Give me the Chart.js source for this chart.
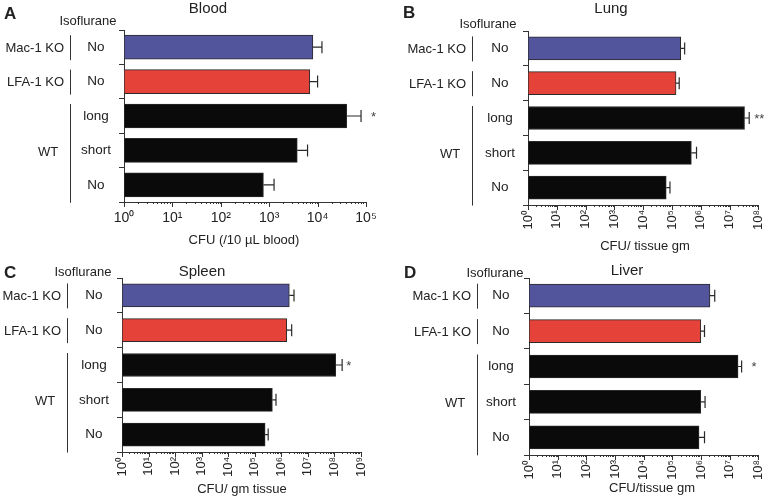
<!DOCTYPE html>
<html>
<head>
<meta charset="utf-8">
<script src="https://cdn.jsdelivr.net/npm/chart.js@4.4.0/dist/chart.umd.min.js"></script>
<style>
  body { margin: 0; background: #fff; }
  #wrap { position: relative; width: 777px; height: 501px; }
  canvas { position: absolute; }
</style>
</head>
<body>
<div id="wrap">
  <canvas id="blood" width="388" height="250" style="left:0;top:0"></canvas>
  <canvas id="lung" width="387" height="256" style="left:390px;top:0"></canvas>
  <canvas id="spleen" width="388" height="251" style="left:0;top:250px"></canvas>
  <canvas id="liver" width="387" height="251" style="left:390px;top:250px"></canvas>
</div>
<script>
const FONT = "'Liberation Sans', Arial, sans-serif";

// rows, top to bottom
const categories = ['No', 'No', 'long', 'short', 'No'];
const groupNames = ['Mac-1 KO', 'LFA-1 KO', 'WT'];
const groupRows = [[0, 0], [1, 1], [2, 4]];
const barColors = ['#52559b', '#e5433a', '#0a0a0a', '#0a0a0a', '#0a0a0a'];

const bloodValues = [8000, 6900, 40000, 3800, 760];
const bloodErrors = [12300, 10000, 79000, 6200, 1260];
const bloodStars = ['', '', '*', '', ''];

const lungValues = [200000, 138000, 33000000, 470000, 63000];
const lungErrors = [275000, 178000, 48000000, 710000, 85000];
const lungStars = ['', '', '**', '', ''];

const spleenValues = [2000000, 1600000, 112000000, 460000, 245000];
const spleenErrors = [3000000, 2450000, 195000000, 630000, 320000];
const spleenStars = ['', '', '*', '', ''];

const liverValues = [2050000, 980000, 19500000, 980000, 850000];
const liverErrors = [3000000, 1320000, 26000000, 1380000, 1320000];
const liverStars = ['', '', '*', '', ''];

const decades5 = ['10⁰', '10¹', '10²', '10³', '10⁴', '10⁵'];
const decades8 = ['10⁰', '10¹', '10²', '10³', '10⁴', '10⁵', '10⁶', '10⁷', '10⁸'];
const decades9 = ['10⁰', '10¹', '10²', '10³', '10⁴', '10⁵', '10⁶', '10⁷', '10⁸', '10⁹'];

const panels = [
  {id: 'blood', letter: 'A', title: 'Blood', axisTitle: 'CFU (/10 µL blood)',
   values: bloodValues, errors: bloodErrors, stars: bloodStars, decades: decades5,
   area: {left: 124, right: 366, top: 30, bottom: 202}, bar: 24, rotate: 0, tickFont: 14, tickPad: 6,
   letterPos: [4, 14], titlePos: [208, 9], isoPos: [88, 21], axisTitlePos: [244, 240], groupX: 70, starGap: 10},
  {id: 'lung', letter: 'B', title: 'Lung', axisTitle: 'CFU/ tissue gm',
   values: lungValues, errors: lungErrors, stars: lungStars, decades: decades8,
   area: {left: 138, right: 378, top: 31, bottom: 205}, bar: 23, rotate: 90, tickFont: 13, tickPad: 3,
   letterPos: [13, 13], titlePos: [221, 9], isoPos: [98, 24], axisTitlePos: [255, 246], groupX: 82, starGap: 5},
  {id: 'spleen', letter: 'C', title: 'Spleen', axisTitle: 'CFU/ gm tissue',
   values: spleenValues, errors: spleenErrors, stars: spleenStars, decades: decades9,
   area: {left: 122, right: 361, top: 28, bottom: 202}, bar: 23, rotate: 90, tickFont: 13, tickPad: 3,
   letterPos: [4, 23], titlePos: [202, 22], isoPos: [83, 22], axisTitlePos: [242, 239], groupX: 67, starGap: 4},
  {id: 'liver', letter: 'D', title: 'Liver', axisTitle: 'CFU/tissue gm',
   values: liverValues, errors: liverErrors, stars: liverStars, decades: decades8,
   area: {left: 139, right: 379, top: 28, bottom: 205}, bar: 23, rotate: 90, tickFont: 13, tickPad: 3,
   letterPos: [14, 23], titlePos: [237, 21], isoPos: [105, 23], axisTitlePos: [262, 238], groupX: 87, starGap: 10}
];

function annotate(p) {
  return {
    id: 'annotate',
    afterDatasetsDraw(chart) {
      const ctx = chart.ctx, x = chart.scales.x, y = chart.scales.y;
      ctx.save();
      // error bars + stars
      ctx.strokeStyle = '#2a2a2a';
      ctx.lineWidth = 1.2;
      p.values.forEach((v, i) => {
        const x0 = x.getPixelForValue(v), x1 = x.getPixelForValue(p.errors[i]);
        const yc = y.getPixelForValue(i);
        ctx.beginPath();
        ctx.moveTo(x0, yc); ctx.lineTo(x1, yc);
        ctx.moveTo(x1, yc - 6); ctx.lineTo(x1, yc + 6);
        ctx.stroke();
        if (p.stars[i]) {
          ctx.fillStyle = '#444';
          ctx.font = '13px ' + FONT;
          ctx.textAlign = 'left';
          ctx.textBaseline = 'middle';
          ctx.fillText(p.stars[i], x1 + p.starGap, yc + 1);
        }
      });
      // longer marks at the decades
      const yb = chart.chartArea.bottom;
      ctx.strokeStyle = '#333';
      ctx.lineWidth = 1;
      p.decades.forEach((_, d) => {
        const xx = Math.round(x.getPixelForValue(Math.pow(10, d))) + 0.5;
        ctx.beginPath(); ctx.moveTo(xx, yb); ctx.lineTo(xx, yb + 5); ctx.stroke();
      });
      ctx.restore();
    },
    afterDraw(chart) {
      const ctx = chart.ctx, y = chart.scales.y;
      ctx.save();
      ctx.fillStyle = '#222';
      ctx.textBaseline = 'middle';

      ctx.font = 'bold 17px ' + FONT;
      ctx.textAlign = 'left';
      ctx.fillText(p.letter, p.letterPos[0], p.letterPos[1]);

      ctx.textAlign = 'center';
      ctx.font = '15px ' + FONT;
      ctx.fillText(p.title, p.titlePos[0], p.titlePos[1]);

      ctx.font = '13px ' + FONT;
      ctx.fillText('Isoflurane', p.isoPos[0], p.isoPos[1]);
      ctx.fillText(p.axisTitle, p.axisTitlePos[0], p.axisTitlePos[1]);

      // genotype groups with their bracket lines
      ctx.strokeStyle = '#333';
      ctx.lineWidth = 1;
      groupRows.forEach(([a, b], g) => {
        const top = y.getPixelForValue(a) - 12;
        const bot = y.getPixelForValue(b) + (a === b ? 13 : 18);
        const lx = Math.round(p.groupX) + 0.5;
        ctx.beginPath(); ctx.moveTo(lx, top); ctx.lineTo(lx, bot); ctx.stroke();
        if (a === b) {
          ctx.textAlign = 'right';
          ctx.fillText(groupNames[g], p.groupX - 6, y.getPixelForValue(a) + 1);
        } else {
          ctx.textAlign = 'center';
          ctx.fillText(groupNames[g], p.groupX - 22, y.getPixelForValue((a + b) / 2) + 2);
        }
      });
      ctx.restore();
    }
  };
}

function makeChart(p) {
  const canvas = document.getElementById(p.id);
  const W = canvas.width, H = canvas.height;
  return new Chart(canvas, {
    type: 'bar',
    data: {
      labels: categories,
      datasets: [{
        data: p.values,
        backgroundColor: barColors,
        borderColor: '#2a2a2a',
        borderWidth: 1,
        borderSkipped: false,
        barThickness: p.bar
      }]
    },
    options: {
      indexAxis: 'y',
      responsive: false,
      animation: false,
      events: [],
      layout: {padding: {left: 0, top: p.area.top, right: W - p.area.right, bottom: 0}},
      plugins: {legend: {display: false}, tooltip: {enabled: false}},
      scales: {
        x: {
          type: 'logarithmic',
          min: 1,
          max: Math.pow(10, p.decades.length - 1),
          afterFit: s => { s.height = H - p.area.bottom; },
          afterBuildTicks: s => {
            const t = [];
            p.decades.forEach((lbl, d) => {
              const base = Math.pow(10, d);
              t.push({value: base, major: true});
              if (d < p.decades.length - 1) {
                for (let k = 2; k <= 9; k++) t.push({value: k * base});
              }
            });
            s.ticks = t;
          },
          grid: {drawOnChartArea: false, tickLength: 2, color: '#333'},
          border: {color: '#333'},
          ticks: {
            autoSkip: false,
            minRotation: p.rotate,
            maxRotation: p.rotate,
            padding: p.tickPad,
            color: '#222',
            font: {family: FONT, size: p.tickFont},
            callback: (v, i, ticks) => ticks[i].major ? p.decades[Math.round(Math.log10(v))] : ''
          }
        },
        y: {
          afterFit: s => { s.width = p.area.left; },
          grid: {drawOnChartArea: false, tickLength: 5, color: '#333'},
          border: {color: '#333'},
          ticks: {crossAlign: 'center', padding: 8, color: '#222', font: {family: FONT, size: 13.5}}
        }
      }
    },
    plugins: [annotate(p)]
  });
}

panels.forEach(makeChart);
</script>
</body>
</html>
